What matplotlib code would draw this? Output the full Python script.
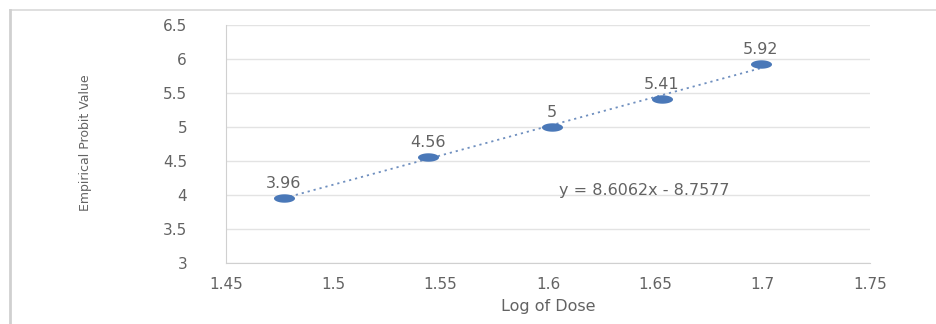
import numpy as np
import matplotlib.pyplot as plt
from matplotlib.lines import Line2D

# log dose vs empirical probit
log_dose = [1.477, 1.544, 1.602, 1.653, 1.699]
probit = [3.96, 4.56, 5.0, 5.41, 5.92]
point_labels = ["3.96", "4.56", "5", "5.41", "5.92"]
slope = 8.6062
intercept = -8.7577
x_ticks = [1.45, 1.5, 1.55, 1.6, 1.65, 1.7, 1.75]
y_ticks = [3, 3.5, 4, 4.5, 5, 5.5, 6, 6.5]

text_grey = "#636363"
point_blue = "#4a78b8"

fig = plt.figure(figsize=(9.36, 3.24), dpi=100)
ax = fig.add_axes([226 / 936, 61 / 324, 644 / 936, 238 / 324])

# outer chart frame (top and left edges only)
fig.add_artist(Line2D([10 / 936, 1], [1 - 10 / 324, 1 - 10 / 324], color="#d9d9d9", lw=1.2, transform=fig.transFigure))
fig.add_artist(Line2D([10 / 936, 10 / 936], [0, 1 - 10 / 324], color="#d0d0d0", lw=2, transform=fig.transFigure))

# trendline over the data range
xs = np.array([log_dose[0], log_dose[-1]])
ax.plot(xs, slope * xs + intercept, linestyle=(0, (1.2, 2.2)), color="#6f8fbf", lw=1.3, zorder=2)

# flat oval markers
t = np.linspace(0, 2 * np.pi, 40)
oval = np.column_stack([np.cos(t), 0.4 * np.sin(t)])
ax.scatter(log_dose, probit, marker=oval, s=230, color=point_blue, zorder=3, linewidths=0)

for x, y, lab in zip(log_dose, probit, point_labels):
    ax.annotate(lab, (x, y), xytext=(0, 5), textcoords="offset points",
                ha="center", va="bottom", fontsize=11.5, color=text_grey)

ax.text(1.645, 4.07, "y = 8.6062x - 8.7577", ha="center", va="center",
        fontsize=11.5, color=text_grey)

ax.set_xlim(1.45, 1.75)
ax.set_ylim(3, 6.5)
ax.set_xticks(x_ticks)
ax.set_yticks(y_ticks)
ax.set_xticklabels([f"{v:g}" for v in x_ticks])
ax.set_yticklabels([f"{v:g}" for v in y_ticks])
ax.tick_params(length=0, colors=text_grey, labelsize=11)
ax.tick_params(axis="x", pad=10)
ax.tick_params(axis="y", pad=28)
ax.yaxis.grid(True, color="#e3e3e3", lw=1)
ax.set_axisbelow(True)

for side in ["top", "right"]:
    ax.spines[side].set_visible(False)
ax.spines["left"].set_color("#d0d0d0")
ax.spines["bottom"].set_color("#d0d0d0")

ax.set_xlabel("Log of Dose", fontsize=11.5, color=text_grey, labelpad=5)
fig.text(85 / 936, 1 - 143 / 324, "Empirical Probit Value", rotation=90,
         ha="center", va="center", fontsize=9, color=text_grey)

fig.savefig("out.png", dpi=100)
